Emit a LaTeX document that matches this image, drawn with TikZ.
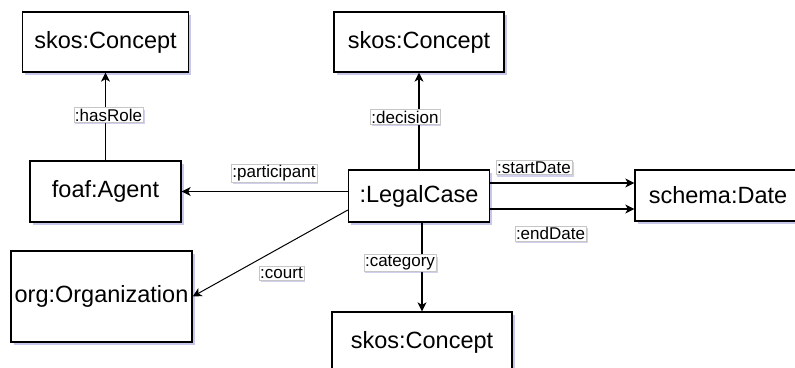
\documentclass[tikz,border=0pt]{standalone}
\usepackage{fontspec}
\setsansfont{Liberation Sans}
\usepackage{tikz}
\usetikzlibrary{arrows.meta, shadows}
\tikzset{class/.style = {draw, line width=1.3pt, fill=white, font=\sffamily\fontsize{23.5}{26}\selectfont,
		drop shadow={shadow xshift=2.5pt, shadow yshift=-3pt, fill=blue!45!gray, opacity=0.3}}}
\tikzset{prop/.style = {draw=gray!45, line width=0.5pt, fill=white, inner sep=1.2pt, font=\sffamily\fontsize{17}{19}\selectfont,
		drop shadow={shadow xshift=1.5pt, shadow yshift=-2pt, fill=blue!45!gray, opacity=0.25}}}
\newcommand{\relArrow}{{Stealth[length=9pt, width=9pt, inset=2.5pt]}}

\begin{document}
\begin{tikzpicture}[font=\sffamily, x=1pt, y=-1pt]
	\clip (0,0) rectangle (795,367);
	\fill[white] (0,0) rectangle (795,367);
	
	\node[class, minimum width=166pt, minimum height=60pt] (concA) at (105.5,42) {skos:Concept};
	\node[class, minimum width=151pt, minimum height=61pt] (agent) at (105.5,191.5) {foaf:Agent};
	\node[class, minimum width=181pt, minimum height=91pt] (org) at (101.5,296.5) {org:Organization};
	\node[class, minimum width=170pt, minimum height=60pt] (concD) at (419,42) {skos:Concept};
	\node[class, minimum width=141pt, minimum height=52pt] (case) at (419,196) {:LegalCase};
	\node[class, minimum width=166pt, minimum height=51pt] (date) at (718,195.5) {schema:Date};
	\node[class, minimum width=180pt, minimum height=60pt] (concC) at (422,342) {skos:Concept};
	
	\draw[line width=1.2pt, -\relArrow]	(agent.north) -- (concA.south);
	\draw[line width=1.2pt, -\relArrow]	(case.north) -- (case.north |- concD.south);
	\draw[line width=1.2pt, -\relArrow]	(case.west |- agent.east) -- (agent.east);
	\draw[line width=1pt, -\relArrow]	([yshift=-14pt]case.west) -- (org.east);
	\draw[line width=1.2pt, -\relArrow]	([yshift=13pt]case.east) -- ([yshift=13pt]case.east -| date.west);
	\draw[line width=1.2pt, -\relArrow]	([yshift=-13pt]case.east) -- ([yshift=-13pt]case.east -| date.west);
	\draw[line width=1.2pt, -\relArrow]	(concC.north |- case.south) -- (concC.north);
	
	\node[prop] (lHasRole) at (108.5,115) {:hasRole};
	\node[prop] (lDecision) at (405,117) {:decision};
	\node[prop] (lParticipant) at (274,173) {:participant};
	\node[prop] (lStartDate) at (534,167.5) {:startDate};
	\node[prop] (lEndDate) at (550.5,233.5) {:endDate};
	\node[prop] (lCategory) at (400,263) {:category};
	\node[prop] (lCourt) at (281.5,273) {:court};
\end{tikzpicture}
\end{document}
